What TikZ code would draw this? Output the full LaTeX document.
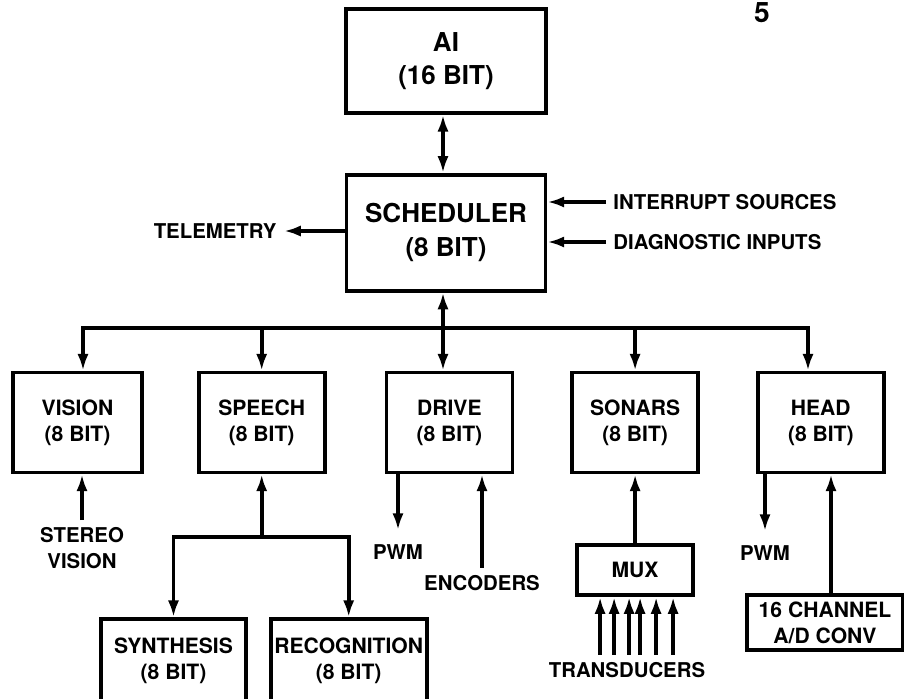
\documentclass[tikz,border=0pt]{standalone}
\usepackage{fontspec}
\setmainfont{TeX Gyre Heros}
\usetikzlibrary{arrows.meta,positioning,calc}

\begin{document}
\begin{tikzpicture}[x=0.025cm, y=-0.025cm, >={Latex[length=0.42cm,width=0.28cm]}, line width=2.6pt]
        \tikzset{block/.style={rectangle, draw, align=center, inner sep=0pt, font=\bfseries\fontsize{15}{18.5}\selectfont},
                 bigblock/.style={block, font=\bfseries\fontsize{18.5}{24}\selectfont},
                 module/.style={block, minimum width=3.15cm, minimum height=2.5cm},
                 sig/.style={align=center, inner sep=4pt, font=\bfseries\fontsize{14.5}{18}\selectfont}}
        \useasboundingbox (0,0) rectangle (904,699);
        \node[bigblock, minimum width=5cm, minimum height=2.6cm] (ai) at (446,61) {AI\\(16 BIT)};
        \node[bigblock, minimum width=4.975cm, minimum height=2.9cm, below=1.45cm of ai] (sched) {SCHEDULER\\(8 BIT)};
        \node[module, minimum width=3.225cm] (vision) at (77.5,422.5) {VISION\\(8 BIT)};
        \node[module, right=1.325cm of vision] (speech) {SPEECH\\(8 BIT)};
        \node[module, right=1.45cm of speech] (drive) {DRIVE\\(8 BIT)};
        \node[module, right=1.4cm of drive] (sonars) {SONARS\\(8 BIT)};
        \node[module, right=1.4cm of sonars] (head) {HEAD\\(8 BIT)};
        \node[block, minimum width=3.625cm, minimum height=2.1cm] (synth) at (173.5,661) {SYNTHESIS\\(8 BIT)};
        \node[block, minimum width=3.9cm, minimum height=2.1cm, right=0.525cm of synth] (recog) {RECOGNITION\\(8 BIT)};
        \node[block, minimum width=2.9cm, minimum height=1.25cm, below=1.725cm of sonars] (mux) {MUX};
        \node[block, minimum width=3.9cm, minimum height=1.375cm] (adc) at (825,622.5) {16 CHANNEL\\A/D CONV};
        \node[sig, anchor=east] (telem) at (284,231) {TELEMETRY};
        \node[sig, anchor=west] (intr) at (606,202) {INTERRUPT SOURCES};
        \node[sig, anchor=west] (diag) at (606,242) {DIAGNOSTIC INPUTS};
        \node[sig] (stereo) at (82,548) {STEREO\\VISION};
        \node[sig] (pwmA) at (398,552) {PWM};
        \node[sig] (enc) at (482,583) {ENCODERS};
        \node[sig] (trans) at (627,670) {TRANSDUCERS};
        \node[sig] (pwmB) at (765,553) {PWM};
        \node[inner sep=0pt, font=\bfseries\fontsize{20}{20}\selectfont] (pgmark) at (762,13) {5};
        \coordinate (bus) at (443,328);
        \coordinate (busL) at (83,328);
        \coordinate (busR) at (808,328);
        \coordinate (split) at (speech.south |- 0,537);
        \draw[<->] (ai.south -| bus) -- (sched.north -| bus);
        \draw[->] (sched.west |- telem) -- (telem.east);
        \draw[->] (intr.west) -- (sched.east |- intr);
        \draw[->] (diag.west) -- (sched.east |- diag);
        \draw[<->] (vision.north -| busL) -- (busL) -- (busR) -- (head.north -| busR);
        \draw[<->] (sched.south -| bus) -- (drive.north -| bus);
        \draw[->] (speech.north |- bus) -- (speech.north);
        \draw[->] (sonars.north |- bus) -- (sonars.north);
        \draw[->] (stereo.north) -- (vision.south -| stereo.north);
        \draw[->] (split) -- (speech.south);
        \draw[<->] (synth.north) |- (split) -| (recog.north);
        \draw[->, shorten >=5pt] (drive.south -| pwmA) -- (pwmA.north);
        \draw[->] (enc.north) -- (drive.south -| enc);
        \draw[->] (mux.north) -- (sonars.south);
        \foreach \dx in {-35,-21,-6,5,21,38} {
            \coordinate (tap) at ($(mux.south)+(\dx,0)$);
            \draw[->] (tap |- trans.north) -- (tap);
        }
        \draw[->, shorten >=5pt] (head.south -| pwmB) -- (pwmB.north);
        \coordinate (adin) at ($(adc.north)+(6,0)$);
        \draw[->] (adin) -- (head.south -| adin);
    \end{tikzpicture}
\end{document}
